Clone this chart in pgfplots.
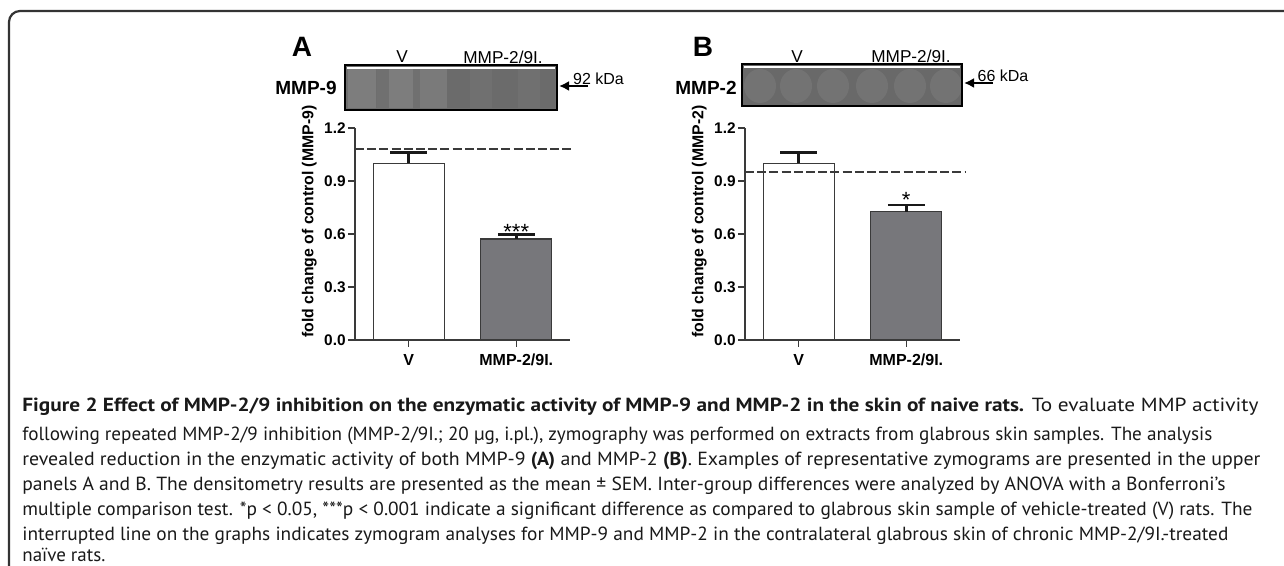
\documentclass[border=0pt]{standalone}
\usepackage{pgfplots}
\pgfplotsset{compat=1.18}
\usetikzlibrary{arrows.meta}
\usepackage{graphicx}
\usepackage{fontspec}
\setmainfont{PT Sans}
\newfontfamily\arial{Liberation Sans}
\definecolor{bargray}{HTML}{77777B}
\definecolor{axgray}{HTML}{3A3A3A}
\definecolor{gelbase}{HTML}{6E6E6E}

\pgfplotsset{
  panel/.style={
    scale only axis, width=107.5pt, height=106pt,
    xmin=0.5, xmax=2.5, ymin=0, ymax=1.2,
    axis x line*=bottom, axis y line*=left,
    axis line style={axgray, line width=0.7pt},
    tick style={axgray, line width=0.7pt},
    tick align=outside, major tick length=3.5pt,
    xtick={1,2}, xticklabels={V, MMP-2/9I.},
    ytick={0,0.3,0.6,0.9,1.2},
    /pgf/number format/assume math mode=true,
    yticklabel style={/pgf/number format/fixed, /pgf/number format/fixed zerofill,
      /pgf/number format/precision=1, inner sep=1pt},
    tick label style={font=\arial\bfseries\fontsize{7.7}{9}\selectfont, text=black},
    xticklabel style={font=\arial\bfseries\fontsize{8}{9}\selectfont},
    every axis y label/.style={at={(axis description cs:-0.212,0.559)}, rotate=90, anchor=center,
      font=\arial\bfseries\fontsize{7.9}{9}\selectfont},
    clip=false,
  },
  errb/.style={error bars/.cd, y dir=plus, y explicit,
    error bar style={black!90, line width=1.4pt},
    error mark options={rotate=90, black!90, line width=1.4pt, mark size=9.25pt}},
  dashln/.style={axgray, line width=1.3pt, dash pattern=on 4.5pt off 1.6pt},
}

\begin{document}
\begin{tikzpicture}
\useasboundingbox (0,0) rectangle (642pt,283pt);

% panel A
\begin{axis}[panel, at={(177.5pt,113pt)}, anchor=south west, ylabel={fold change of control (MMP-9)}]
\addplot[ybar, bar shift=0pt, bar width=35.5pt, fill=white, draw=axgray, line width=0.6pt, errb]
  coordinates {(1,1.00) +- (0,0.062)};
\addplot[ybar, bar shift=0pt, bar width=35.5pt, fill=bargray, draw=axgray, line width=0.6pt, errb]
  coordinates {(2,0.572) +- (0,0.026)};
\addplot[dashln] coordinates {(0.5,1.08) (2.53,1.08)};
\node[anchor=base, font=\arial\fontsize{11}{12}\selectfont] at (axis cs:2,0.568) {***};
\end{axis}

% panel B
\begin{axis}[panel, at={(372.5pt,113pt)}, anchor=south west, ylabel={fold change of control (MMP-2)}]
\addplot[ybar, bar shift=0pt, bar width=35.5pt, fill=white, draw=axgray, line width=0.6pt, errb]
  coordinates {(1,1.00) +- (0,0.062)};
\addplot[ybar, bar shift=0pt, bar width=35.5pt, fill=bargray, draw=axgray, line width=0.6pt, errb]
  coordinates {(2,0.726) +- (0,0.038)};
\addplot[dashln] coordinates {(0.5,0.951) (2.55,0.951)};
\node[anchor=base, font=\arial\fontsize{11}{12}\selectfont] at (axis cs:2,0.749) {*};
\end{axis}

\begin{scope}[shift={(0pt,283pt)}, x=0.5pt, y=-0.5pt]
% frame
\draw[black!80, line width=1.1pt, rounded corners=5.5pt] (9,570) -- (9,11) -- (1290,11);

% panel letters and gel labels
\node[font=\arial\bfseries\fontsize{14}{15}\selectfont] at (302,47) {A};
\node[font=\arial\bfseries\fontsize{14}{15}\selectfont] at (703,47) {B};
\node[font=\arial\bfseries\fontsize{9.5}{11}\selectfont] at (306,88) {MMP-9};
\node[font=\arial\bfseries\fontsize{9.5}{11}\selectfont] at (706,88) {MMP-2};
\node[font=\arial\fontsize{8.6}{10}\selectfont] at (402,57) {V};
\node[font=\arial\fontsize{8.6}{10}\selectfont] at (503,57) {MMP-2/9I.};
\node[font=\arial\fontsize{8.6}{10}\selectfont] at (797,57) {V};
\node[font=\arial\fontsize{8.6}{10}\selectfont] at (911,56) {MMP-2/9I.};

% gel A
\fill[gelbase] (345,65) rectangle (557,110);
\fill[black!51] (348,68) rectangle (376,108);
\fill[black!56] (377,68) rectangle (389,108);
\fill[black!51] (389,68) rectangle (413,108);
\fill[black!56] (413,68) rectangle (420,108);
\fill[black!52] (420,68) rectangle (447,108);
\fill[black!58] (447,68) rectangle (555,108);
\fill[black!56] (470,68) rectangle (492,108);
\fill[black!56] (518,68) rectangle (540,108);
\draw[white, line width=0.6pt] (347,68) -- (555,68);
\draw[black, line width=1pt] (345,65) rectangle (557,110);
% gel B
\fill[black!59] (742,64) rectangle (962,106);
\foreach \cx in {760,796,833,872,910,946} \fill[black!55] (\cx,86) ellipse (16 and 17);
\draw[white, line width=0.6pt] (744,67) -- (960,67);
\draw[black, line width=1pt] (742,64) rectangle (962,106);

% kDa markers
\node[font=\arial\fontsize{8}{10}\selectfont] at (598.5,79) {92 kDa};
\draw[black, line width=1pt, -{Latex[length=5pt,width=5pt]}] (588,86) -- (559,86);
\node[font=\arial\fontsize{8}{10}\selectfont] at (1003,76) {66 kDa};
\draw[black, line width=1pt, -{Latex[length=5pt,width=5pt]}] (993,83) -- (964,83);

% caption
\begin{scope}[every node/.style={anchor=base west, inner sep=0pt, font=\fontsize{9.5}{11}\selectfont, text=black!90}]
\node at (22,412) {\resizebox{618pt}{\height}{\textbf{Figure 2 Effect of MMP-2/9 inhibition on the enzymatic activity of MMP-9 and MMP-2 in the skin of naive rats.} To evaluate MMP activity}};
\node at (22,441) {\resizebox{595pt}{\height}{following repeated MMP-2/9 inhibition (MMP-2/9I.; 20 µg, i.pl.), zymography was performed on extracts from glabrous skin samples. The analysis}};
\node at (22,466) {\resizebox{619pt}{\height}{revealed reduction in the enzymatic activity of both MMP-9 \textbf{(A)} and MMP-2 \textbf{(B)}. Examples of representative zymograms are presented in the upper}};
\node at (22,491) {\resizebox{601.5pt}{\height}{panels A and B. The densitometry results are presented as the mean ± SEM. Inter-group differences were analyzed by ANOVA with a Bonferroni’s}};
\node at (22,516) {\resizebox{615pt}{\height}{multiple comparison test. *p < 0.05, ***p < 0.001 indicate a significant difference as compared to glabrous skin sample of vehicle-treated (V) rats. The}};
\node at (22,541) {\resizebox{603pt}{\height}{interrupted line on the graphs indicates zymogram analyses for MMP-9 and MMP-2 in the contralateral glabrous skin of chronic MMP-2/9I.-treated}};
\node at (22,562) {naïve rats.};
\end{scope}
\end{scope}
\end{tikzpicture}
\end{document}
